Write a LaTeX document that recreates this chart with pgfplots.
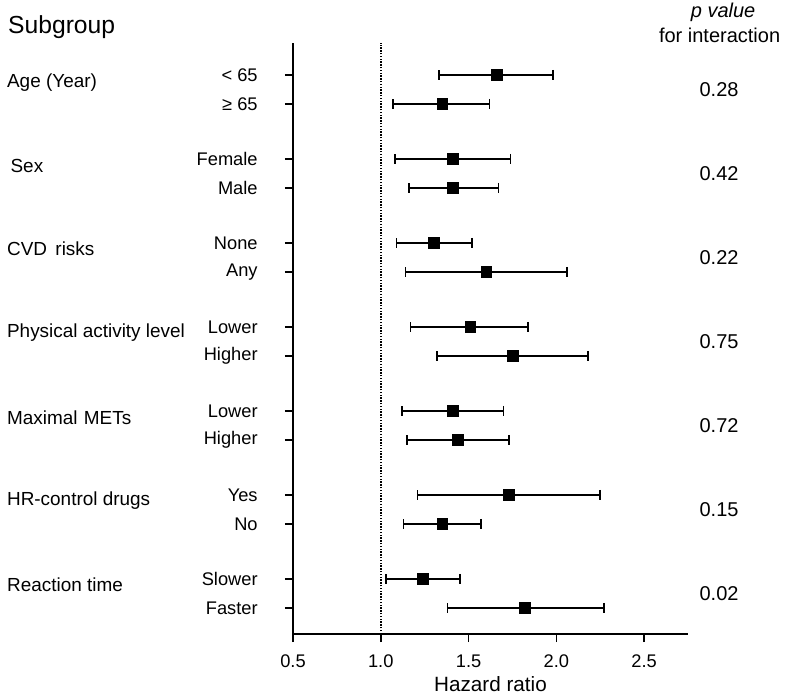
\documentclass[border=0pt]{standalone}
\usepackage{fontspec}
\setmainfont{Liberation Sans}
\usepackage{pgfplots}
\pgfplotsset{compat=1.18}
\usepackage{pgfplotstable}

% y = row position (negative, top to bottom), hazard ratio with 95% CI
\pgfplotstableread{
y     hr    lo    hi
-1.0  1.66  1.33  1.98
-2.0  1.35  1.07  1.62
-3.9  1.41  1.08  1.74
-4.9  1.41  1.16  1.67
-6.8  1.30  1.09  1.52
-7.8  1.60  1.14  2.06
-9.7  1.51  1.17  1.84
-10.7 1.75  1.32  2.18
-12.6 1.41  1.12  1.70
-13.6 1.44  1.15  1.73
-15.5 1.73  1.21  2.25
-16.5 1.35  1.13  1.57
-18.4 1.24  1.03  1.45
-19.4 1.82  1.38  2.27
}\hrdata

\begin{document}
\begin{tikzpicture}
\path[use as bounding box] (-219.75pt,-46.5pt) rectangle (370.5pt,475.5pt);
\begin{axis}[
  at={(0,0)}, anchor=south west,
  width=296.25pt, height=443.25pt, scale only axis,
  xmin=0.5, xmax=2.75, ymin=-20.3, ymax=0.1,
  axis x line*=bottom, axis y line*=left,
  axis line style={line width=1.2pt, -},
  xtick={0.5,1.0,1.5,2.0,2.5},
  xticklabel style={yshift=-6pt, /pgf/number format/.cd, fixed, fixed zerofill, precision=1, assume math mode=true},
  ytick={-19.4,-18.4,-16.5,-15.5,-13.6,-12.6,-10.7,-9.7,-7.8,-6.8,-4.9,-3.9,-2.0,-1.0},
  yticklabels={Faster,Slower,No,Yes,Higher,Lower,Higher,Lower,Any,None,Male,Female,{≥ 65},{< 65}},
  yticklabel style={xshift=-17pt},
  tick align=outside, major tick length=6pt,
  tick style={line width=1.2pt, black},
  clip=false,
  tick label style={font=\fontsize{13.7}{15}\selectfont},
  xlabel={Hazard ratio},
  xlabel style={font=\fontsize{15.5}{17}\selectfont},
]
\draw[densely dotted, line width=1.1pt] (axis cs:1,-20.3) -- (axis cs:1,0.1);

\addplot[only marks, mark=square*, mark size=4pt, black,
  error bars/.cd, x dir=both, x explicit, error mark=|,
  error bar style={line width=1.2pt},
  error mark options={line width=1.2pt, mark size=3.75pt}]
  table[x=hr, y=y, x error plus expr=\thisrow{hi}-\thisrow{hr},
        x error minus expr=\thisrow{hr}-\thisrow{lo}] {\hrdata};

\begin{scope}[every node/.style={anchor=west, inner sep=0pt, font=\fontsize{14.2}{16}\selectfont}]
\node at (axis cs:-1.13,-1.25) {Age (Year)};
\node at (axis cs:-1.11,-4.15) {Sex};
\node at (axis cs:-1.13,-7.0) {CVD\, risks};
\node at (axis cs:-1.13,-9.9) {Physical activity level};
\node at (axis cs:-1.13,-12.85) {Maximal\,\,METs};
\node at (axis cs:-1.13,-15.7) {HR-control drugs};
\node at (axis cs:-1.13,-18.6) {Reaction time};
\end{scope}
\node[anchor=west, inner sep=0pt, font=\fontsize{18.5}{21}\selectfont] at (axis cs:-1.124,0.655) {Subgroup};

\begin{scope}[every node/.style={inner sep=0pt, font=\fontsize{15}{17}\selectfont}]
\node at (axis cs:2.95,1.17) {\textit{p value}};
\node at (axis cs:2.93,0.38) {for interaction};
\node at (axis cs:2.927,-1.5) {0.28};
\node at (axis cs:2.927,-4.4) {0.42};
\node at (axis cs:2.927,-7.3) {0.22};
\node at (axis cs:2.927,-10.2) {0.75};
\node at (axis cs:2.927,-13.1) {0.72};
\node at (axis cs:2.927,-16.0) {0.15};
\node at (axis cs:2.927,-18.9) {0.02};
\end{scope}
\end{axis}
\end{tikzpicture}
\end{document}
